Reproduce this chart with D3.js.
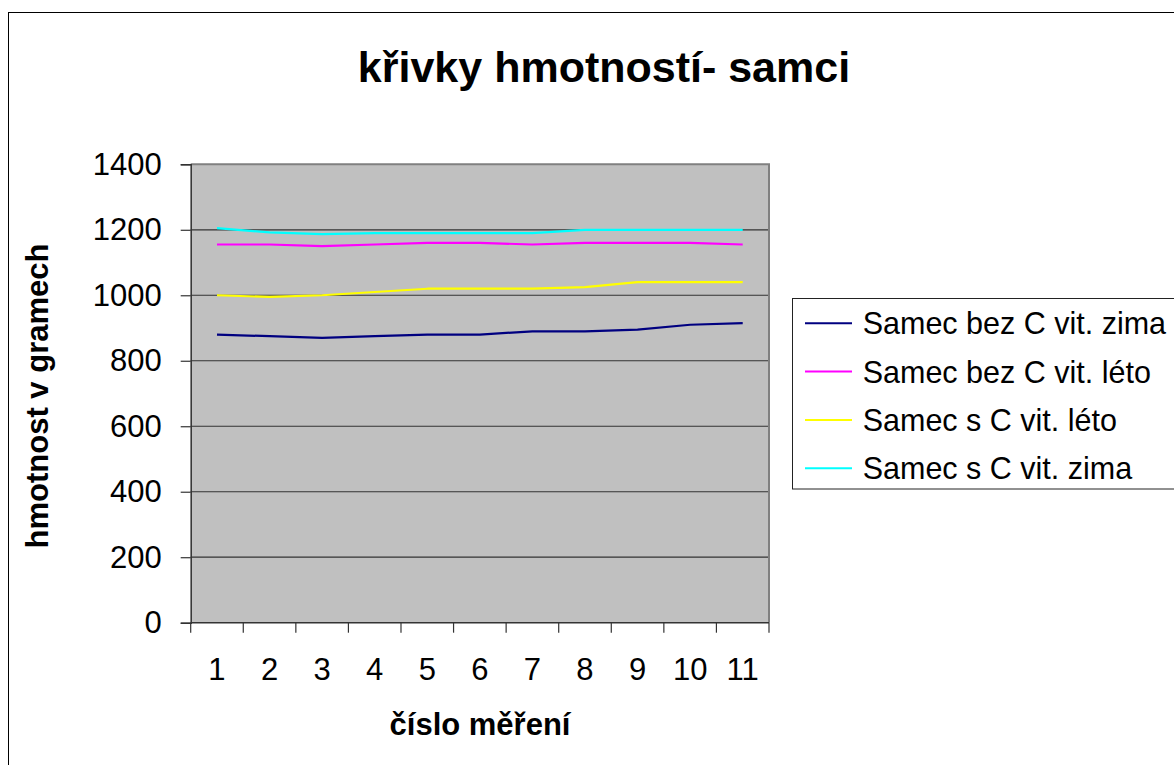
<!DOCTYPE html>
<html>
<head>
<meta charset="utf-8">
<script src="https://cdn.jsdelivr.net/npm/d3@7"></script>
<style>
  body { margin: 0; background: #fff; }
  svg { display: block; font-family: Arial, "Liberation Sans", sans-serif; }
</style>
</head>
<body>
<svg id="chart" width="1174" height="765"></svg>
<script>
// data
var categories = ['1', '2', '3', '4', '5', '6', '7', '8', '9', '10', '11'];
var seriesNames = ['Samec bez C vit. zima', 'Samec bez C vit. léto', 'Samec s C vit. léto', 'Samec s C vit. zima'];
var bezCZima = [880, 875, 870, 875, 880, 880, 890, 890, 895, 910, 915];
var bezCLeto = [1155, 1155, 1150, 1155, 1160, 1160, 1155, 1160, 1160, 1160, 1155];
var sCLeto   = [1000, 995, 1000, 1010, 1020, 1020, 1020, 1025, 1040, 1040, 1040];
var sCZima   = [1205, 1192, 1187, 1190, 1190, 1190, 1190, 1200, 1200, 1200, 1200];
var yTicks = [0, 200, 400, 600, 800, 1000, 1200, 1400];
var colors = ['#000080', '#ff00ff', '#ffff00', '#00ffff'];

var series = [bezCZima, bezCLeto, sCLeto, sCZima];

// layout
var svg = d3.select('#chart');
var plot = {left: 190.7, right: 769, top: 164.3, bottom: 622.7};

// outer chart border (runs off the right and bottom edges)
svg.append('rect')
  .attr('x', 8.5).attr('y', 12.5)
  .attr('width', 1200).attr('height', 800)
  .attr('fill', '#fff').attr('stroke', '#000').attr('stroke-width', 1);

var x = d3.scaleBand()
  .domain(categories)
  .range([plot.left, plot.right])
  .paddingInner(0).paddingOuter(0);

var y = d3.scaleLinear()
  .domain([0, 1400])
  .range([plot.bottom, plot.top]);

// plot background
svg.append('rect')
  .attr('x', plot.left).attr('y', plot.top)
  .attr('width', plot.right - plot.left).attr('height', plot.bottom - plot.top)
  .attr('fill', '#c0c0c0');

// gridlines
svg.append('g')
  .selectAll('line')
  .data(yTicks.filter(function (d) { return d > 0 && d < 1400; }))
  .enter().append('line')
  .attr('x1', plot.left).attr('x2', plot.right)
  .attr('y1', function (d) { return y(d); })
  .attr('y2', function (d) { return y(d); })
  .attr('stroke', '#333').attr('stroke-width', 1.2);

// plot border top & right (grey)
svg.append('path')
  .attr('d', 'M' + plot.left + ',' + plot.top + 'H' + plot.right + 'V' + plot.bottom)
  .attr('fill', 'none').attr('stroke', '#808080').attr('stroke-width', 2);

// y axis
var yAxis = svg.append('g')
  .attr('transform', 'translate(' + plot.left + ',0)')
  .call(d3.axisLeft(y).tickValues(yTicks).tickSize(10).tickPadding(19).tickFormat(d3.format('d')));
yAxis.select('.domain').attr('stroke', '#333').attr('stroke-width', 1.5);
yAxis.selectAll('.tick line').attr('stroke', '#333').attr('stroke-width', 1.2);
yAxis.selectAll('text')
  .attr('font-size', 31).attr('font-family', 'Arial, "Liberation Sans", sans-serif')
  .attr('fill', '#000');

// x axis: ticks on category boundaries, labels at centers
var xAxisG = svg.append('g');
xAxisG.append('line')
  .attr('x1', plot.left).attr('x2', plot.right)
  .attr('y1', plot.bottom).attr('y2', plot.bottom)
  .attr('stroke', '#333').attr('stroke-width', 1.5);
var bounds = categories.map(function (c) { return x(c); }).concat([plot.right]);
xAxisG.selectAll('line.tk')
  .data(bounds)
  .enter().append('line')
  .attr('class', 'tk')
  .attr('x1', function (d) { return d; }).attr('x2', function (d) { return d; })
  .attr('y1', plot.bottom).attr('y2', plot.bottom + 10)
  .attr('stroke', '#333').attr('stroke-width', 1.2);
xAxisG.selectAll('text')
  .data(categories)
  .enter().append('text')
  .attr('x', function (d) { return x(d) + x.bandwidth() / 2; })
  .attr('y', 680)
  .attr('text-anchor', 'middle')
  .attr('font-size', 31)
  .text(function (d) { return d; });

// series lines
var line = d3.line()
  .x(function (d, i) { return x(categories[i]) + x.bandwidth() / 2; })
  .y(function (d) { return y(d); });

svg.append('g')
  .selectAll('path')
  .data(series)
  .enter().append('path')
  .attr('d', line)
  .attr('fill', 'none')
  .attr('stroke', function (d, i) { return colors[i]; })
  .attr('stroke-width', 2.2)
  .attr('stroke-linejoin', 'round');

// titles
svg.append('text')
  .attr('x', 604).attr('y', 82)
  .attr('text-anchor', 'middle')
  .attr('font-size', 43).attr('font-weight', 'bold')
  .text('křivky hmotností- samci');

svg.append('text')
  .attr('x', 480).attr('y', 735)
  .attr('text-anchor', 'middle')
  .attr('font-size', 31).attr('font-weight', 'bold')
  .text('číslo měření');

svg.append('text')
  .attr('transform', 'translate(48,' + 396 + ') rotate(-90)')
  .attr('text-anchor', 'middle')
  .attr('font-size', 31).attr('font-weight', 'bold')
  .text('hmotnost v gramech');

// legend
var legend = svg.append('g');
legend.append('rect')
  .attr('x', 792.5).attr('y', 298.5)
  .attr('width', 500).attr('height', 190.5)
  .attr('fill', '#fff').attr('stroke', '#222').attr('stroke-width', 1);

var rows = legend.selectAll('g.row')
  .data(seriesNames)
  .enter().append('g')
  .attr('class', 'row')
  .attr('transform', function (d, i) { return 'translate(0,' + (323.3 + i * 48.3) + ')'; });
rows.append('line')
  .attr('x1', 805).attr('x2', 852)
  .attr('stroke', function (d, i) { return colors[i]; })
  .attr('stroke-width', 2);
rows.append('text')
  .attr('x', 862.7).attr('dy', '0.36em')
  .attr('font-size', 30.5)
  .text(function (d) { return d; });
</script>
</body>
</html>
